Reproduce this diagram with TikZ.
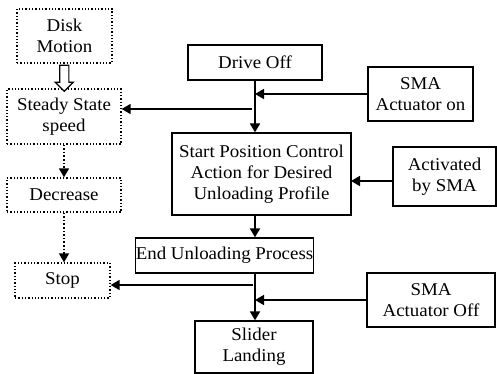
\documentclass[tikz,border=0pt]{standalone}
\usepackage{fontspec}
\setmainfont{Liberation Serif}[FakeStretch=1.05]
\usetikzlibrary{arrows.meta,shapes.arrows,calc}
\tikzset
{
    solidbox/.style = {rectangle, draw=black, line width=1.3pt, align=center, inner sep=0pt, font=\fontsize{18}{21}\selectfont},
    dotbox/.style   = {rectangle, draw=black, dotted, line width=1.3pt, align=center, inner sep=0pt, font=\fontsize{18}{21}\selectfont},
    arrow/.style    = {line width=1.6pt, -{Triangle[length=9pt, width=10pt]}},
    trunk/.style    = {arrow, line width=2pt},
    dotarrow/.style = {arrow, dotted},
    hollow/.style   = {single arrow, draw=black, line width=1.1pt, fill=white, inner sep=4pt, minimum height=26pt,
                       single arrow head extend=4.5pt, single arrow tip angle=90, shape border rotate=270}
}

\begin{document}
\begin{tikzpicture}[x=1pt, y=-1pt]
   \useasboundingbox (0,0) rectangle (497,374);

   % left column
   \node (disk)     [dotbox, minimum width=95pt,  minimum height=54pt] at (64.5, 36)    {Disk\\Motion};
   \node (steady)   [dotbox, minimum width=114pt, minimum height=55pt] at (64, 116.5)   {Steady State\\speed};
   \node (decrease) [dotbox, minimum width=114pt, minimum height=34pt] at (64, 195)     {Decrease};
   \node (stop)     [dotbox, minimum width=95pt,  minimum height=35pt] at (62.5, 280.5) {Stop};

   % main column
   \node (drive)    [solidbox, minimum width=134pt, minimum height=35pt] at (255, 62.5)   {Drive Off};
   \node (start)    [solidbox, minimum width=179pt, minimum height=82pt] at (261.5, 174)  {Start Position Control\\Action for Desired\\Unloading Profile};
   \node (endun)    [solidbox, minimum width=145pt, minimum height=35pt] at (224.5, 255.5) {End Unloading Process};
   \node (slider)   [solidbox, minimum width=118pt, minimum height=52pt] at (254, 347)    {Slider\\Landing};

   % right column
   \node (smaon)    [solidbox, minimum width=105pt, minimum height=54pt] at (420.5, 94)   {SMA\\Actuator on};
   \node (activ)    [solidbox, minimum width=103pt, minimum height=59pt] at (444.5, 176.5) {Activated\\by SMA};
   \node (smaoff)   [solidbox, minimum width=128pt, minimum height=54pt] at (431, 300)    {SMA\\Actuator Off};

   \node (push) [hollow] at ($(disk.south)!0.5!(steady.north)$) {};

   \coordinate (tosteady) at (252, 109);
   \coordinate (toactiv)  at (351, 181);
   \coordinate (tostop)   at (253, 285);
   \coordinate (line)     at (255, 0);

   \draw[dotarrow] (steady.south) -- (decrease.north);
   \draw[dotarrow] (decrease.south) -- (decrease.south |- stop.north);

   \draw[trunk] (drive.south) -- (drive.south |- start.north);
   \draw[trunk] (line |- start.south) -- (line |- endun.north);
   \draw[trunk] (line |- endun.south) -- (line |- slider.north);

   \draw[arrow] (smaon.west) -- (smaon.west -| line);
   \draw[arrow] (tosteady) -- (tosteady -| steady.east);
   \draw[arrow] (activ.west |- toactiv) -- (toactiv);
   \draw[arrow] (tostop) -- (tostop -| stop.east);
   \draw[arrow] (smaoff.west) -- (smaoff.west -| line);
\end{tikzpicture}
\end{document}
